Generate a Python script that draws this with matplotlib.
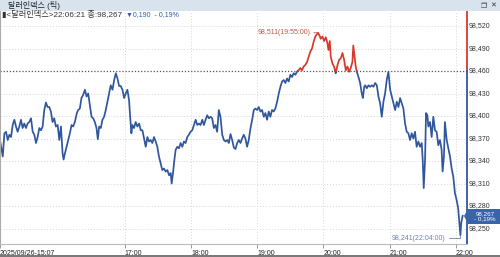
import numpy as np
import matplotlib
matplotlib.use("Agg")
import matplotlib.pyplot as plt
from matplotlib.patches import Rectangle, Polygon

plt.rcParams['font.family'] = ['Liberation Sans', 'Noto Sans CJK KR', 'DejaVu Sans']

# minutes after 15:00, dollar index value
minutes = [
    7.0, 9.5, 11.0, 12.5, 14.0, 15.5, 17.0, 18.5, 20.0, 21.5, 23.0, 24.5, 26.0, 27.5, 29.0, 30.5,
    32.0, 33.5, 35.1, 36.6, 38.1, 39.6, 41.1, 42.6, 44.1, 45.6, 47.1, 48.6, 50.1, 51.6, 53.1, 54.6,
    56.1, 57.6, 59.2, 60.7, 62.2, 63.7, 64.6, 65.8, 67.3, 68.8, 70.3, 71.8, 73.3, 74.8, 76.6, 77.8,
    79.3, 80.8, 82.3, 83.9, 85.4, 86.9, 88.4, 89.9, 91.4, 92.9, 94.4, 95.6, 96.8, 98.3, 99.8, 101.3,
    102.8, 104.3, 105.8, 107.3, 108.9, 110.4, 111.9, 113.4, 114.9, 116.4, 117.9, 119.4, 120.9, 122.4,
    123.9, 124.8, 126.0, 126.9, 128.4, 129.9, 131.4, 133.0, 134.5, 136.0, 137.5, 139.0, 140.5, 142.0,
    143.5, 145.0, 146.5, 148.0, 149.5, 151.0, 152.5, 154.0, 155.5, 157.1, 158.6, 160.1, 161.6, 162.5,
    163.7, 164.9, 166.1, 167.6, 169.1, 170.6, 172.1, 173.6, 175.1, 176.6, 178.1, 179.6, 181.1, 182.7,
    184.2, 185.7, 187.2, 188.7, 190.2, 191.7, 193.2, 194.7, 196.2, 197.7, 199.2, 200.7, 202.2, 203.7,
    205.2, 206.7, 208.3, 209.8, 211.3, 212.8, 214.3, 215.8, 217.3, 218.8, 220.3, 221.8, 223.3, 224.8,
    226.3, 227.8, 229.3, 230.8, 232.3, 233.9, 235.4, 236.9, 238.4, 239.9, 241.4, 242.9, 244.4, 245.9,
    247.4, 248.9, 250.4, 251.9, 253.4, 254.9, 256.4, 258.0, 259.5, 261.0, 262.5, 264.0, 265.5, 267.0,
    268.5, 270.0, 271.5, 273.0, 274.5, 276.0, 277.5, 279.0, 280.5, 282.0, 283.5, 285.1, 286.6, 288.1,
    289.6, 291.1, 292.6, 295.0, 296.5, 297.5, 299.0, 300.6, 302.1, 303.6, 304.5, 305.7, 306.6, 308.1,
    309.6, 311.1, 312.7, 314.2, 315.7, 317.2, 318.7, 320.2, 321.7, 323.2, 324.7, 326.2, 327.0, 328.2,
    329.2, 330.2, 331.7, 333.2, 334.7, 335.7, 336.9, 337.8, 339.3, 340.8, 342.3, 343.8, 345.3, 346.8,
    348.3, 349.8, 351.3, 352.8, 354.3, 355.8, 357.3, 358.8, 360.4, 361.9, 363.4, 364.9, 366.4, 367.9,
    369.4, 370.9, 372.4, 373.9, 375.4, 376.9, 378.4, 379.9, 381.4, 382.9, 384.4, 386.0, 387.5, 389.0,
    389.9, 390.8, 392.0, 392.9, 394.1, 395.0, 396.5, 398.0, 399.5, 401.0, 402.5, 404.0, 405.5, 407.0,
    407.9, 409.1, 410.0, 411.6, 413.1, 414.6, 416.1, 417.6, 419.1, 420.6, 422.0, 424.0, 424.8, 425.4,
    426.1,
]
price = [
    98.368, 98.346, 98.377, 98.379, 98.368, 98.375, 98.372, 98.388, 98.395, 98.386, 98.379, 98.386, 98.395, 98.384, 98.390, 98.384,
    98.390, 98.392, 98.397, 98.379, 98.375, 98.364, 98.372, 98.384, 98.381, 98.386, 98.408, 98.418, 98.412, 98.412, 98.406, 98.392,
    98.397, 98.386, 98.388, 98.368, 98.386, 98.350, 98.342, 98.350, 98.359, 98.368, 98.377, 98.388, 98.386, 98.392, 98.404, 98.408,
    98.410, 98.424, 98.428, 98.435, 98.426, 98.430, 98.415, 98.399, 98.397, 98.392, 98.384, 98.369, 98.386, 98.384, 98.395, 98.399,
    98.408, 98.419, 98.430, 98.441, 98.435, 98.448, 98.457, 98.450, 98.440, 98.440, 98.435, 98.424, 98.430, 98.435,
    98.421, 98.401, 98.377, 98.388, 98.384, 98.392, 98.386, 98.390, 98.381, 98.381, 98.370, 98.359, 98.372, 98.366,
    98.368, 98.364, 98.372, 98.366, 98.359, 98.346, 98.337, 98.328, 98.330, 98.326, 98.328, 98.321, 98.324, 98.310,
    98.324, 98.341, 98.355, 98.359, 98.357, 98.364, 98.359, 98.366, 98.364, 98.372, 98.375, 98.379, 98.381, 98.388,
    98.395, 98.388, 98.390, 98.388, 98.395, 98.388, 98.395, 98.401, 98.397, 98.399, 98.397, 98.384, 98.388, 98.379,
    98.408, 98.399, 98.375, 98.368, 98.366, 98.368, 98.364, 98.376, 98.368, 98.358, 98.356, 98.364, 98.368, 98.364,
    98.370, 98.375, 98.370, 98.359, 98.368, 98.384, 98.395, 98.408, 98.410, 98.408, 98.412, 98.406, 98.408, 98.399,
    98.404, 98.395, 98.406, 98.399, 98.408, 98.406, 98.410, 98.419, 98.430, 98.439, 98.446, 98.448, 98.444, 98.450,
    98.446, 98.455, 98.452, 98.457, 98.455, 98.459, 98.461, 98.464, 98.461, 98.466, 98.468, 98.472, 98.479, 98.486,
    98.490, 98.499, 98.506, 98.511, 98.507, 98.503, 98.506, 98.500, 98.505, 98.497, 98.488, 98.500, 98.479, 98.470,
    98.466, 98.457, 98.468, 98.475, 98.477, 98.484, 98.475, 98.461, 98.466, 98.459, 98.464, 98.472, 98.494, 98.478,
    98.466, 98.459, 98.452, 98.444, 98.430, 98.424, 98.439, 98.441, 98.437, 98.441, 98.439, 98.441, 98.439, 98.444,
    98.441, 98.426, 98.417, 98.399, 98.419, 98.430, 98.448, 98.459, 98.435, 98.426, 98.417, 98.408, 98.419, 98.412,
    98.424, 98.417, 98.410, 98.390, 98.379, 98.377, 98.368, 98.377, 98.370, 98.379, 98.359, 98.366, 98.359, 98.364,
    98.341, 98.304, 98.341, 98.404, 98.401, 98.386, 98.392, 98.372, 98.399, 98.381, 98.379, 98.361, 98.368, 98.355,
    98.326, 98.346, 98.392, 98.368, 98.357, 98.346, 98.330, 98.319, 98.297, 98.288, 98.277, 98.241, 98.258, 98.262,
    98.267,
]

base = 98.460  # dotted reference level
tick_minutes = [7, 120, 180, 240, 300, 360, 420]
tick_labels = ['2025/09/26-15:07', '17:00', '18:00', '19:00', '20:00', '21:00', '22:00']
yticks = [98.250, 98.280, 98.310, 98.340, 98.370, 98.400, 98.430, 98.460, 98.490, 98.520]

BLUE = '#30569c'
RED = '#d8382b'


def split_at(t, v, th):
    tt, vv = [t[0]], [v[0]]
    for i in range(1, len(t)):
        a, b = v[i - 1] - th, v[i] - th
        if a * b < 0:
            f = a / (a - b)
            tt.append(t[i - 1] + f * (t[i] - t[i - 1]))
            vv.append(th)
        tt.append(t[i])
        vv.append(v[i])
    return np.array(tt), np.array(vv)


W, H = 500, 257
fig = plt.figure(figsize=(W / 100, H / 100), dpi=100)
fig.patch.set_facecolor('white')

top_px, bot_px, right_px = 11, 244, 467
ax = fig.add_axes([0, (H - bot_px) / H, right_px / W, (bot_px - top_px) / H])
ax.set_xlim(7, 430)
ax.set_ylim(98.2294, 98.5400)

tt, vv = split_at(minutes, price, base)
ax.plot(tt, np.where(vv <= base + 1e-9, vv, np.nan), color=BLUE, lw=1.25)
ax.plot(tt, np.where(vv >= base - 1e-9, vv, np.nan), color=RED, lw=1.25)
ax.axhline(base, color='#555555', lw=0.9, ls=(0, (1, 1.5)))

for m in tick_minutes[1:]:
    ax.axvline(m, color='#d6d6d6', lw=0.7, ls=(0, (1, 2)), zorder=0)
for y in yticks:
    if y != base:
        ax.axhline(y, color='#d6d6d6', lw=0.7, ls=(0, (1, 2)), zorder=0)

ax.set_xticks(tick_minutes)
ax.set_xticklabels(tick_labels, fontsize=5, ha='left', color='#222222')
ax.tick_params(axis='x', length=3, width=0.6, color='#888888', pad=1)
ax.yaxis.tick_right()
ax.set_yticks(yticks)
ax.set_yticklabels([f'{y:.3f}'.replace('.', ',') for y in yticks], fontsize=5, color='#333333',
                   va='center')
ax.tick_params(axis='y', length=0, pad=1)

for s in ['top', 'right']:
    ax.spines[s].set_visible(False)
ax.spines['left'].set_color('#aaaaaa')
ax.spines['bottom'].set_color('#bbbbbb')
ax.spines['bottom'].set_linewidth(0.8)

# right edge coloured by reference level
yt = ax.get_yaxis_transform()
ax.plot([1, 1], [base, 98.54], transform=yt, color=RED, lw=1.3, clip_on=False)
ax.plot([1, 1], [98.2294, base], transform=yt, color=BLUE, lw=1.3, clip_on=False)

# high / low annotations
ax.annotate('98,511(19:55:00)', xy=(295, 98.511), xytext=(-7, 0), textcoords='offset pixels',
            ha='right', va='center', fontsize=5, color='#c6544a',
            arrowprops=dict(arrowstyle='-', color='#c6544a', lw=0.6, shrinkA=0, shrinkB=0))
ax.annotate('98,241(22:04:00)', xy=(424, 98.241), xytext=(-15, -3), textcoords='offset pixels',
            ha='right', va='center', fontsize=5, color='#6a84ad',
            arrowprops=dict(arrowstyle='-', color='#6a84ad', lw=0.6, shrinkA=0.5, shrinkB=0,
                            connectionstyle='angle,angleA=0,angleB=90,rad=0'))

# title bar
fig.patches.append(Rectangle((0, 1 - top_px / H), 1, top_px / H, transform=fig.transFigure,
                             facecolor='#d8e3ee', edgecolor='none'))
fig.patches.append(Rectangle((0, 0), 1, 2 / H, transform=fig.transFigure,
                             facecolor='#7a7a7a', edgecolor='none'))
fig.text(8 / W, 1 - 6 / H, '달러인덱스 (틱)', fontsize=5.8, va='center', color='#222222')
fig.text(493 / W, 1 - 6 / H, '✕', fontsize=5, va='center', ha='center', color='#333333')
fig.text(484 / W, 1 - 6 / H, '❐', fontsize=5, va='center', ha='center', color='#333333')

# info line
fig.text(2 / W, 1 - 15 / H, '▮<달러인덱스>22:06:21 종:98,267', fontsize=5.9, va='center', color='#333333')
fig.text(126 / W, 1 - 15 / H, '▼0,190  - 0,19%', fontsize=5, va='center', color='#2f5fb0')

# current price tag
fig.patches.append(Polygon([(464 / W, 1 - 216 / H), (468 / W, 1 - 209 / H), (500 / W, 1 - 209 / H),
                            (500 / W, 1 - 224 / H), (468 / W, 1 - 224 / H)],
                           closed=True, transform=fig.transFigure, facecolor='#3a64a8', edgecolor='none'))
fig.text(485 / W, 1 - 216.5 / H, '98,267\n- 0,19%', fontsize=4.5, va='center', ha='center',
         color='white', linespacing=0.95)

fig.savefig('out.png', dpi=100)
